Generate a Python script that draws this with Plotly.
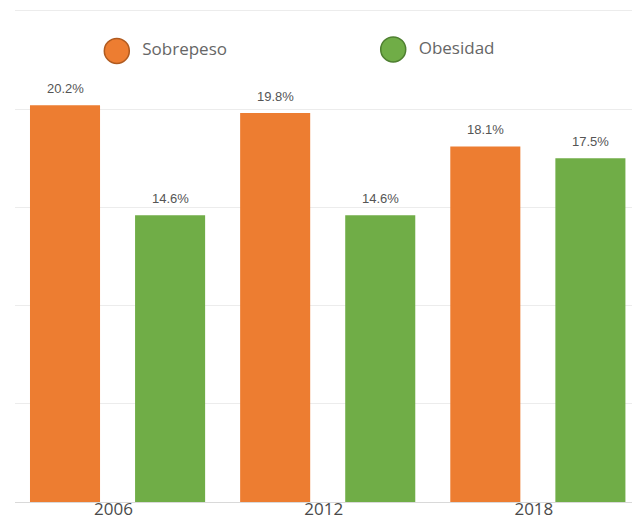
import plotly.graph_objects as go

years = ["2006", "2012", "2018"]
sobrepeso = [20.2, 19.8, 18.1]
obesidad = [14.6, 14.6, 17.5]
series_names = ["Sobrepeso", "Obesidad"]
colors = ["#ED7D31", "#70AD47"]
outline = ["#B05A1F", "#4E7F30"]
y_ticks = [0, 5, 10, 15, 20, 25]

fig = go.Figure()
series = [sobrepeso, obesidad]
for name, vals, col in zip(series_names, series, colors):
    fig.add_trace(go.Bar(
        x=years, y=vals, name=name, marker=dict(color=col, line=dict(width=0)),
        showlegend=False,
    ))

# value labels above the bars (grouped offsets: slot = 0.5 category units)
annotations = []
for s, vals in enumerate(series):
    for i, v in enumerate(vals):
        annotations.append(dict(
            x=i + (s - 0.5) * 0.5, y=v, xref="x", yref="y",
            text=f"{v:.1f}%", showarrow=False, yanchor="bottom", yshift=7,
            font=dict(family="Liberation Sans Narrow, Liberation Sans", size=13, color="#555555"),
        ))

# custom legend with big circles
fig.add_trace(go.Scatter(
    x=[0.165, 0.613], y=[0.915, 0.918], mode="markers+text",
    text=["  " + n for n in series_names], textposition="middle right",
    textfont=dict(family="Open Sans", size=17, color="#666666"),
    marker=dict(size=25, color=colors, line=dict(color=outline, width=1.5)),
    xaxis="x2", yaxis="y2", showlegend=False, hoverinfo="skip", cliponaxis=False,
))

fig.update_layout(
    width=632, height=519,
    margin=dict(l=15, r=0, t=9, b=17, autoexpand=False),
    paper_bgcolor="white", plot_bgcolor="white",
    barmode="group", bargap=0, bargroupgap=1/3,
    annotations=annotations,
    xaxis=dict(type="category", range=[-0.488, 2.448], showgrid=False, automargin=False,
               showline=True, linecolor="#d9d9d9", linewidth=1,
               ticks="", ticklen=0, ticklabelstandoff=-8, ticklabelshift=-4,
               tickfont=dict(family="Open Sans", size=17, color="#4a4a4a")),
    yaxis=dict(range=[0, 25.1], tickvals=y_ticks, showticklabels=False, automargin=False,
               gridcolor="#ececec", gridwidth=1, zeroline=False, fixedrange=True),
    xaxis2=dict(domain=[0, 1], range=[0, 1], visible=False, anchor="y2", overlaying="x"),
    yaxis2=dict(domain=[0, 1], range=[0, 1], visible=False, anchor="x2", overlaying="y"),
)

fig.write_html("out.html", config={"displayModeBar": False},
               post_script="document.body.style.margin='0';")
